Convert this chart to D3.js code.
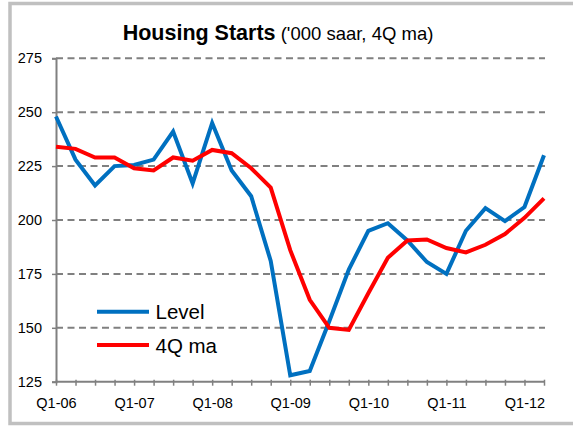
<!DOCTYPE html>
<html>
<head>
<meta charset="utf-8">
<script src="https://cdn.jsdelivr.net/npm/d3@7"></script>
<style>
  html, body { margin: 0; padding: 0; background: #fff; }
  svg { display: block; font-family: "Liberation Sans", Arial, sans-serif; }
</style>
</head>
<body>
<svg id="chart" width="573" height="426"></svg>
<script>
const quarters = ["Q1-06","Q2-06","Q3-06","Q4-06","Q1-07","Q2-07","Q3-07","Q4-07",
  "Q1-08","Q2-08","Q3-08","Q4-08","Q1-09","Q2-09","Q3-09","Q4-09",
  "Q1-10","Q2-10","Q3-10","Q4-10","Q1-11","Q2-11","Q3-11","Q4-11","Q1-12","Q2-12"];
const level = [248, 228, 216, 225, 225.5, 228, 241, 217, 245, 223, 211, 181,
  128, 130, 153, 177, 195, 198.5, 190.5, 180.5, 175, 195, 205.5, 199.5, 206, 230];
const ma4q = [234, 233, 229, 229, 224, 223, 229, 227.5, 232.5, 231, 224, 215,
  186, 163, 150, 149, 166, 182.5, 190.5, 191, 187, 185, 188.5, 193.5, 201, 210];
const yTicks = [125, 150, 175, 200, 225, 250, 275];
const xLabelEvery = 4;
const seriesNames = ["Level", "4Q ma"];
const seriesColors = ["#0070C0", "#FF0000"];

const svg = d3.select("#chart");

// outer frame
svg.append("rect")
  .attr("x", 10).attr("y", 3.5).attr("width", 620).attr("height", 420)
  .attr("fill", "none").attr("stroke", "#c0c0c0").attr("stroke-width", 3.5);

const x = d3.scalePoint().domain(quarters).range([56, 544]);
const y = d3.scaleLinear().domain([125, 275]).range([381.7, 58.3]);

// gridlines
svg.append("g").selectAll("line")
  .data(yTicks.filter(d => d !== 125))
  .join("line")
  .attr("x1", 56).attr("x2", 545)
  .attr("y1", d => y(d)).attr("y2", d => y(d))
  .attr("stroke", "#808080").attr("stroke-width", 2)
  .attr("stroke-dasharray", "7,4.5");

// y axis
const yAxis = d3.axisLeft(y).tickValues(yTicks).tickSize(4).tickPadding(10);
const gy = svg.append("g").attr("transform", "translate(56,0)").call(yAxis);
gy.select(".domain").attr("stroke", "#808080").attr("stroke-width", 2);
gy.selectAll(".tick line").attr("stroke", "#808080").attr("stroke-width", 1.5);
gy.selectAll(".tick text").attr("font-size", 14.5).attr("fill", "#000")
  .attr("font-family", "Liberation Sans, Arial, sans-serif");

// x axis
const xAxis = d3.axisBottom(x).tickSizeInner(4).tickSizeOuter(0).tickPadding(12)
  .tickFormat((d, i) => i % xLabelEvery === 0 ? d : "");
const gx = svg.append("g").attr("transform", "translate(0,381.7)").call(xAxis);
gx.select(".domain").attr("stroke", "#808080").attr("stroke-width", 2)
  .attr("d", "M56,0H544");
gx.selectAll(".tick line").attr("stroke", "#808080").attr("stroke-width", 1.5)
  .attr("y1", -2).attr("y2", 4);
gx.selectAll(".tick text").attr("font-size", 14.5).attr("fill", "#000")
  .attr("font-family", "Liberation Sans, Arial, sans-serif");

// lines
const line = d3.line().x((d, i) => x(quarters[i])).y(d => y(d));
[level, ma4q].forEach((s, k) => {
  svg.append("path").datum(s)
    .attr("d", line)
    .attr("fill", "none")
    .attr("stroke", seriesColors[k])
    .attr("stroke-width", 4)
    .attr("stroke-linejoin", "miter");
});

// title
const title = svg.append("text").attr("x", 278).attr("y", 39.5)
  .attr("text-anchor", "middle").attr("fill", "#000");
title.append("tspan").attr("font-weight", "bold").attr("font-size", 21.5).text("Housing Starts");
title.append("tspan").attr("font-size", 18.5).text(" ('000 saar, 4Q ma)");

// legend
const leg = svg.append("g");
[311.7, 345].forEach((ly, k) => {
  leg.append("line").attr("x1", 97).attr("x2", 149).attr("y1", ly).attr("y2", ly)
    .attr("stroke", seriesColors[k]).attr("stroke-width", 4);
  leg.append("text").attr("x", 155.5).attr("y", ly + 7.5)
    .attr("font-size", 20.5).attr("fill", "#000").text(seriesNames[k]);
});
</script>
</body>
</html>
